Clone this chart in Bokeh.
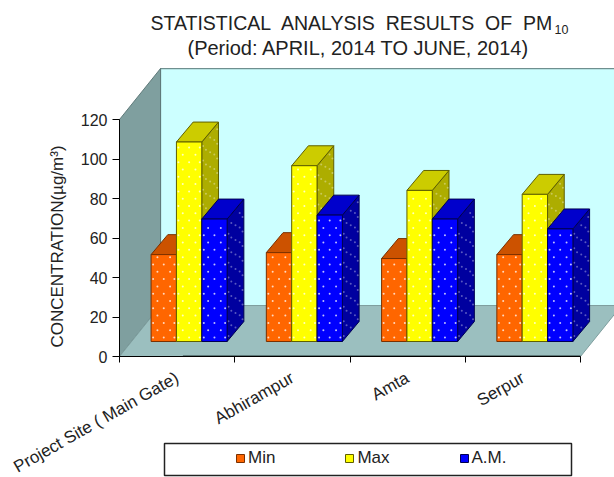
import numpy as np
from bokeh.plotting import figure
from bokeh.models import (Range1d, FixedTicker, LinearAxis, Label, BoxAnnotation, Legend, LegendItem)
from bokeh.embed import file_html
from bokeh.resources import INLINE

categories = ["Project Site ( Main Gate)", "Abhirampur", "Amta", "Serpur"]
series_names = ["Min", "Max", "A.M."]
min_values = [44, 45, 42, 44]
max_values = [101, 89, 76.5, 74.5]
am_values = [62, 64, 62, 57]
y_ticks = [0, 20, 40, 60, 80, 100, 120]

FONT = "Liberation Sans"
TXT = "#222222"
PX_X, PX_Y = 115.25, 1.975  # pixels per axis unit
DX, DY = 0.356, 25.8        # depth of the 3D box in axis units
BX, BY = 0.104, 7.6         # how far the bars sit behind the front edge
CX, CY = 0.145, 10.1        # depth of one column
BW = 0.22                   # column width

p = figure(width=614, height=477, output_backend="svg", toolbar_location=None,
           x_range=Range1d(-119 / PX_X, 495 / PX_X), y_range=Range1d(-121 / PX_Y, 356 / PX_Y),
           x_axis_type=None, y_axis_type=None,
           min_border_left=0, min_border_right=0, min_border_top=0, min_border_bottom=0)
p.grid.visible = False
p.outline_line_color = None
p.background_fill_color = "white"

# walls and floor
p.patch([DX, 4 + DX, 4 + DX, DX], [DY, DY, 120 + DY, 120 + DY],
        fill_color="#CCFFFF", line_color="#6F8F8F", line_width=1.2)
p.patch([0, DX, DX, 0], [0, DY, 120 + DY, 120], fill_color="#7F9F9F", line_color="#5F7A7A", line_width=1)
p.patch([0, 4, 4 + DX, DX], [0, 0, DY, DY], fill_color="#9BBFBF", line_color="#7F9F9F", line_width=1)
p.line([0.55, 4], [0.3, 0.3], line_color="#5F7A7A", line_width=2)

faces = [("#FF6600", "#CC5200", "#CC5200"),
         ("#FFFF00", "#CCCC00", "#ADAD00"),
         ("#0000FF", "#0000CC", "#00009F")]
edges = ["#7A3000", "#5F5F00", "#00004F"]
legend_items = []


def speckle(left, right, bottom, top, shear_x, alpha):
    """Small pale dots of the column texture, on a staggered grid."""
    xs, ys = [], []
    for i, y in enumerate(np.arange(bottom + 2, top - 1, 3.7)):
        fr = (0.25, 0.75) if i % 2 else (0.08, 0.5, 0.92)
        for f in fr:
            xs.append(left + f * (right - left))
            ys.append(y + f * shear_x)
    p.scatter(xs, ys, marker="circle", size=2, line_color=None, fill_color="white", fill_alpha=alpha)


for g in range(len(categories)):
    for s, vals in enumerate([min_values, max_values, am_values]):
        left = g + 0.5 + BX + (s - 1.5) * BW
        right = left + BW
        base = BY
        top = BY + vals[g]
        front, topc, side = faces[s]
        p.patch([right, right + CX, right + CX, right],
                [base, base + CY, top + CY, top],
                fill_color=side, line_color=edges[s], line_width=1)
        if s == 2 or s == 1:
            speckle(right, right + CX, base, top, CY, 0.35)
        p.patch([left, right, right + CX, left + CX],
                [top, top, top + CY, top + CY],
                fill_color=topc, line_color=edges[s], line_width=1)
        r = p.quad(left=[left], right=[right], bottom=[base], top=[top],
                   fill_color=front, line_color=edges[s], line_width=1)
        speckle(left, right, base, top, 0, 0.75)
        if g == 0:
            legend_items.append(LegendItem(label=series_names[s], renderers=[r]))

# axes
yax = LinearAxis(ticker=FixedTicker(ticks=y_ticks), bounds=(0, 120), fixed_location=0)
yax.major_tick_in = 0
yax.major_tick_out = 7
yax.minor_tick_out = 0
yax.minor_tick_in = 0
yax.major_label_text_font = FONT
yax.major_label_text_font_size = "16px"
yax.major_label_text_color = TXT
yax.major_label_standoff = 5
p.add_layout(yax, "left")

xax = LinearAxis(ticker=FixedTicker(ticks=[g + 0.5 for g in range(len(categories))],
                                    minor_ticks=list(range(len(categories) + 1))),
                 bounds=(0, 4), fixed_location=0)
xax.major_label_overrides = {g + 0.5: c for g, c in enumerate(categories)}
xax.major_tick_in = 0
xax.major_tick_out = 0
xax.minor_tick_in = 0
xax.minor_tick_out = 6
xax.major_label_orientation = 0.515
xax.major_label_text_font = FONT
xax.major_label_text_font_size = "17px"
xax.major_label_text_color = TXT
xax.major_label_standoff = 14
p.add_layout(xax, "below")


# titles
def lab(text, x, y, size, align="left", angle=0):
    p.add_layout(Label(x=x, y=y, x_units="canvas", y_units="canvas", text=text, text_font=FONT,
                       text_font_size=size, text_color=TXT, text_align=align,
                       text_baseline="middle", angle=angle))


lab("STATISTICAL\u00a0 ANALYSIS\u00a0 RESULTS\u00a0 OF\u00a0 PM", 150, 22, "19.5px")
lab("10", 554, 29, "12.5px")
lab("(Period: APRIL, 2014 TO JUNE, 2014)", 358, 47, "20px", align="center")
lab("CONCENTRATION(\u00b5g/m\u00b3)", 57, 246, "17px", align="center", angle=1.5708)

# legend
p.add_layout(BoxAnnotation(left=164, right=571, top=443, bottom=475,
                           left_units="canvas", right_units="canvas",
                           top_units="canvas", bottom_units="canvas",
                           fill_color="white", fill_alpha=1, line_color="#222222",
                           line_alpha=1, line_width=1.5))
legend = Legend(items=legend_items, orientation="horizontal", location=(235, 9),
                background_fill_alpha=0, border_line_color=None, padding=0, margin=0,
                spacing=69, glyph_width=10, glyph_height=10, label_standoff=3,
                label_text_font=FONT, label_text_font_size="17px", label_text_color=TXT,
                label_height=17)
p.add_layout(legend)

open("out.html", "w").write(file_html(p, INLINE))
